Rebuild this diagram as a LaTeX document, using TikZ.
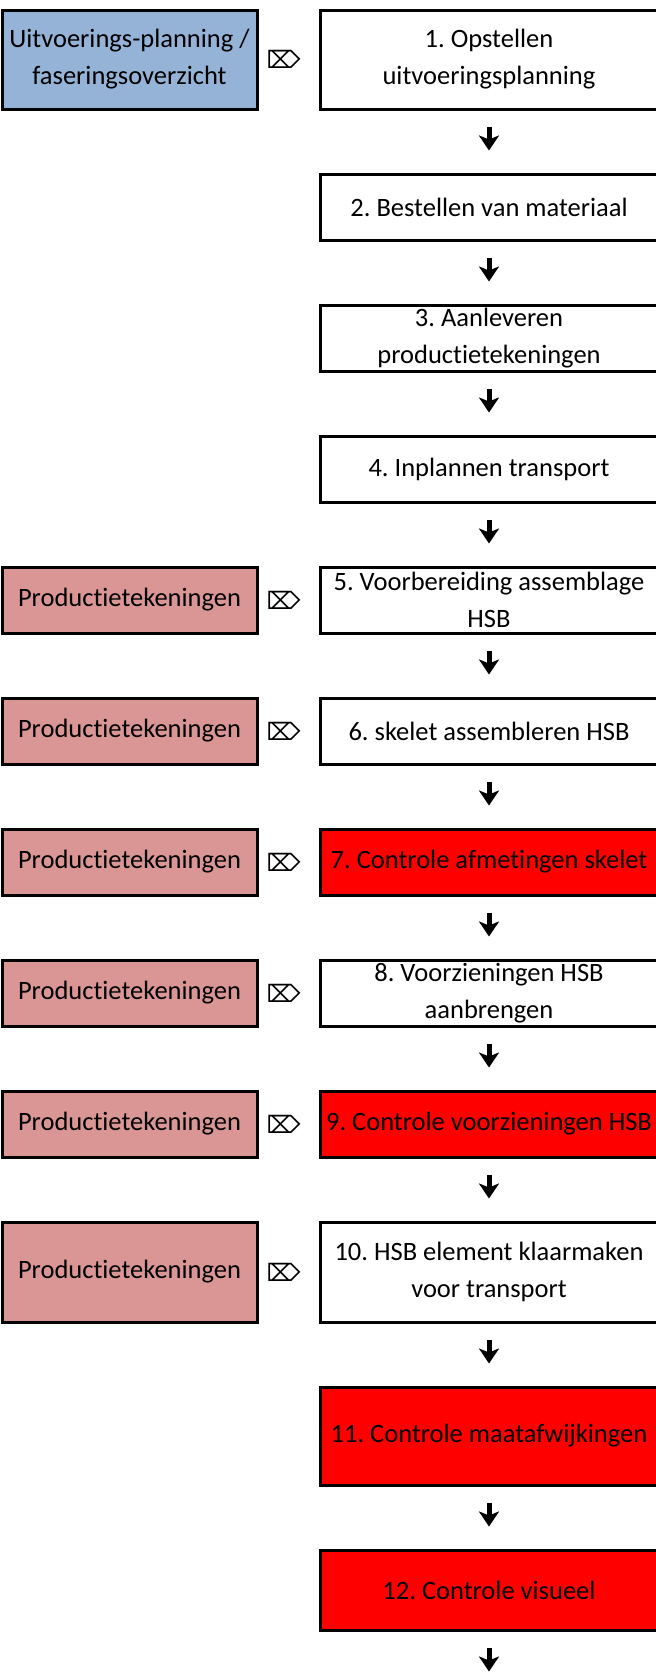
\documentclass[tikz,border=0pt]{standalone}
\usepackage{fontspec}
\setmainfont[Ligatures=NoCommon]{Carlito}
\newfontfamily\symfont{DejaVu Sans}
\usetikzlibrary{arrows.meta,positioning}
\definecolor{planblue}{HTML}{95B3D7}
\definecolor{tekenrose}{HTML}{DA9694}
\frenchspacing
\tikzstyle{stepbox}=[draw=black,line width=3pt,fill=white,minimum width=338pt,minimum height=66pt,inner sep=0pt,align=center,font=\fontsize{26.5}{37}\selectfont]
\tikzstyle{check}=[stepbox,fill=red]
\tikzstyle{input}=[stepbox,minimum width=255pt,fill=tekenrose]
\tikzstyle{flow}=[line width=5pt,-{Stealth[width=20pt,length=15pt,inset=4pt]},shorten <=16pt,shorten >=22pt]
\tikzstyle{linkmark}=[inner sep=0pt,font=\symfont\fontsize{24}{24}\selectfont]

\begin{document}
\begin{tikzpicture}[
    node distance=62pt,
    text centered
    ]
    \useasboundingbox (0,0) rectangle (656pt,-1674pt);
    % hoofdstappen
    \node[stepbox,minimum height=99pt](b1) at (489pt,-59.5pt) {1. Opstellen\\uitvoeringsplanning};
    \node[stepbox](b2) [below=of b1] {2. Bestellen van materiaal};
    \node[stepbox](b3) [below=of b2] {3. Aanleveren\\productietekeningen};
    \node[stepbox](b4) [below=of b3] {4. Inplannen transport};
    \node[stepbox](b5) [below=of b4] {5. Voorbereiding assemblage\\HSB};
    \node[stepbox](b6) [below=of b5] {6. skelet assembleren HSB};
    \node[check](b7) [below=of b6] {7. Controle afmetingen skelet};
    \node[stepbox](b8) [below=of b7] {8. Voorzieningen HSB\\aanbrengen};
    \node[check](b9) [below=of b8] {9. Controle voorzieningen HSB};
    \node[stepbox,minimum height=100pt](b10) [below=of b9] {10. HSB element klaarmaken\\voor transport};
    \node[check,minimum height=98pt](b11) [below=of b10] {11. Controle maatafwijkingen};
    \node[check,minimum height=80pt](b12) [below=of b11] {12. Controle visueel};
    \coordinate[below=of b12] (end);
    
    % documenten
    \node[input,fill=planblue,minimum height=99pt](plan) [left=60pt of b1] {Uitvoerings-planning /\\faseringsoverzicht};
    \foreach \i in {5,...,9}
        \node[input](p\i) [left=60pt of b\i] {Productietekeningen};
    \node[input,minimum height=100pt](p10) [left=60pt of b10] {Productietekeningen};
    
    \path (plan) -- node[linkmark,pos=0.42] (m1) {⌦} (b1);
    \foreach \i in {5,...,10}
        \path (p\i) -- node[linkmark,pos=0.42] (m\i) {⌦} (b\i);
    
    \path[flow]
    (b1) edge (b2)
    (b2) edge (b3)
    (b3) edge (b4)
    (b4) edge (b5)
    (b5) edge (b6)
    (b6) edge (b7)
    (b7) edge (b8)
    (b8) edge (b9)
    (b9) edge (b10)
    (b10) edge (b11)
    (b11) edge (b12)
    (b12) edge (end)
    ;
\end{tikzpicture}
\end{document}
